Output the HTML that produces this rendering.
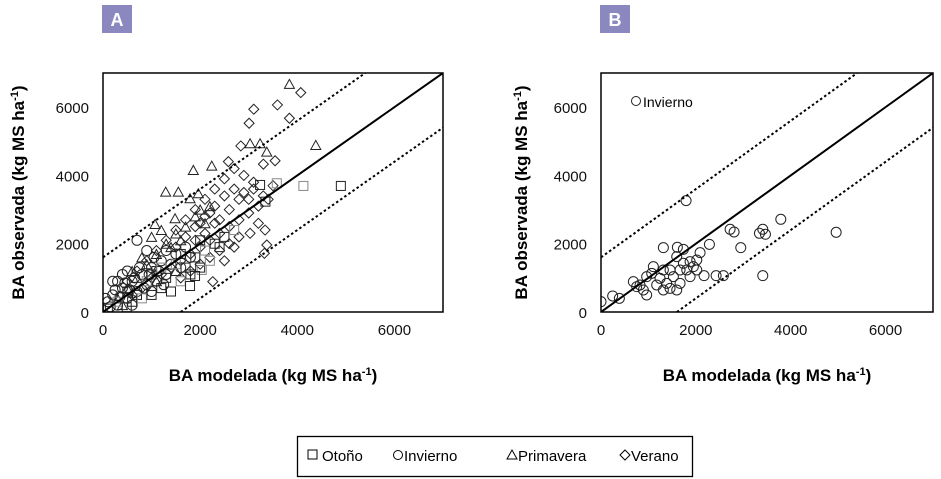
<!DOCTYPE html>
<html><head><meta charset="utf-8"><style>
body{margin:0;background:#fff;}
svg{display:block;font-family:"Liberation Sans",sans-serif;}
</style></head><body>
<svg id="c" width="941" height="479">
<g id="gA"></g>
<g id="gB"></g>
<g>
<rect x="297.5" y="436.5" width="395" height="40" fill="#fff" stroke="#000" stroke-width="1.3"/>
<g><rect x="308" y="450" width="9" height="9" fill="none" stroke="#000"/><text x="322" y="461" font-size="15">Otoño</text></g>
<g><circle cx="398" cy="455" r="4.5" fill="none" stroke="#000"/><text x="404" y="461" font-size="15">Invierno</text></g>
<g><path d="M507,459 L512,450 L517,459 Z" fill="none" stroke="#000"/><text x="518" y="461" font-size="15">Primavera</text></g>
<g><path d="M620,455 L625,450 L630,455 L625,460 Z" fill="none" stroke="#000"/><text x="631" y="461" font-size="15">Verano</text></g>
</g>
</svg>
<script>
const xTicks=[0,2000,4000,6000];
const yTicks=[0,2000,4000,6000];
const otonoA=[[100,100],[300,300],[500,600],[700,500],[900,900],[1100,1200],[1300,1000],[1500,1400],[1700,1300],[1900,1600],[2100,1800],[2300,2000],[2500,2200],[2700,2400],[1200,700],[1400,600],[1600,900],[1800,1100],[2000,1300],[800,400],[1000,500],[600,300],[2200,1500],[2400,1900],[1000,1100],[1200,1300],[1600,1700],[2000,2100],[4126,3692],[4897,3692],[3234,3721],[3578,3771],[3344,3232],[1792,762],[2033,1231],[1895,1055],[488,138]];
const inviernoA=[[100,300],[200,500],[300,200],[400,700],[500,400],[600,900],[700,600],[800,1100],[900,800],[1000,1300],[1100,900],[1200,1500],[1300,1100],[400,1100],[300,900],[700,2100],[900,1800],[150,150],[250,650],[350,450],[450,850],[550,650],[650,1000],[750,1300],[850,700],[950,1100],[1050,1600],[1150,1200],[1250,800],[1400,1400],[1500,1700],[1600,1300],[1700,1900],[1800,1600],[200,900],[50,400],[600,200],[1000,600],[1300,1800],[500,1200]];
const primaveraA=[[300,400],[500,700],[700,1000],[900,1400],[1100,1700],[1300,2000],[1500,2300],[1700,2500],[1900,2800],[2100,2600],[1000,2200],[1200,2400],[800,1600],[600,1200],[1400,1900],[1600,2100],[2000,3000],[2200,3100],[1100,900],[1500,1200],[400,200],[3838,6680],[4381,4893],[3028,4942],[3234,4942],[3372,4697],[1860,4160],[2239,4287],[1291,3525],[1551,3525],[1071,2578],[1792,3331],[1963,3478],[1483,2745]];
const veranoA=[[500,900],[700,1200],[900,1500],[1100,1800],[1300,2100],[1500,2400],[1700,2700],[1900,3000],[2100,3300],[2300,3600],[2500,3900],[2700,4200],[2900,4000],[3100,3800],[1200,1100],[1400,1300],[1600,1500],[1800,1700],[2000,1900],[2200,2100],[2400,2300],[2600,2500],[2800,2700],[3000,2900],[3200,3100],[3400,3300],[1500,1900],[1700,2200],[1900,2500],[2100,2800],[2300,3100],[2500,3400],[2700,3600],[2900,3500],[3100,3600],[2000,1400],[2200,1600],[2400,1800],[2600,2000],[2800,2200],[2500,1500],[2700,1900],[1800,1200],[1600,1000],[2300,2600],[2600,3000],[3300,3400],[3500,3700],[2800,3300],[1000,1000],[800,700],[600,500],[2000,2600],[2200,2900],[2400,2700],[3000,3300],[1900,2100],[2100,2300],[4072,6426],[3591,6065],[3838,5675],[3104,5939],[3008,5528],[2837,4864],[3372,1963],[3323,1719],[2260,889],[3028,2305],[3199,2598],[3337,2400],[2581,4404],[3543,4430],[3302,4330]];
const inviernoB=[[0,303],[246,469],[387,400],[1794,3262],[1315,1885],[1610,1895],[1737,1836],[2286,1982],[2722,2422],[2806,2344],[2947,1885],[3341,2305],[3411,2422],[3467,2276],[3791,2715],[4958,2334],[3411,1065],[2581,1065],[2427,1065],[2173,1065],[682,889],[752,742],[893,645],[963,498],[1104,1328],[1069,1133],[963,1035],[1245,986],[1385,840],[1456,693],[1526,1035],[1667,1231],[1737,1426],[1878,1475],[2019,1524],[2089,1739],[1948,1328],[1808,1231],[1878,1035],[1667,840],[1597,645],[1315,645],[1174,791],[823,791],[1456,1231],[1315,1231],[1597,1621],[2019,1231]];
const NS='http://www.w3.org/2000/svg';
function mk(p,t,a){const e=document.createElementNS(NS,t);for(const k in a)e.setAttribute(k,a[k]);p.appendChild(e);return e;}
function panel(g,L,R,T,B,labX,letter,series){
  const sx=v=>L+(v/7000)*(R-L), sy=v=>B-(v/7000)*(B-T);
  const clip='clip'+letter;
  const cp=mk(g,'clipPath',{id:clip});mk(cp,'rect',{x:L,y:T,width:R-L,height:B-T});
  const badge=mk(g,'rect',{x:L-1,y:5,width:30,height:28,fill:'#8b88bf'});
  
  
  const bt=mk(g,'text',{x:L+14,y:26,'font-size':18,'font-weight':'bold',fill:'#fff','text-anchor':'middle'});bt.textContent=letter;
  
  
  const mg=mk(g,'g',{'clip-path':'url(#'+clip+')'});
  series.forEach(s=>{
    s.d.forEach((p,i)=>{
      const x=sx(p[0]),y=sy(p[1]);let e;
      const col=(s.k==='sq'&&i%3===1)?'#888':'#222';
      if(s.k==='sq')e=mk(mg,'rect',{x:x-4.5,y:y-4.5,width:9,height:9,fill:'none',stroke:col,'stroke-width':1});
      else if(s.k==='ci')e=mk(mg,'circle',{cx:x,cy:y,r:5,fill:'none',stroke:'#222','stroke-width':1});
      else if(s.k==='tr')e=mk(mg,'path',{d:`M${x-5},${y+4.5}L${x},${y-4.5}L${x+5},${y+4.5}Z`,fill:'none',stroke:'#222','stroke-width':1});
      else e=mk(mg,'path',{d:`M${x-5},${y}L${x},${y-5}L${x+5},${y}L${x},${y+5}Z`,fill:'none',stroke:'#222','stroke-width':1});
      
      
    });
  });
  const l1=mk(mg,'line',{x1:sx(0),y1:sy(0),x2:sx(7000),y2:sy(7000),stroke:'#000','stroke-width':2});
  
  
  const l2=mk(mg,'line',{x1:sx(0),y1:sy(1600),x2:sx(5400),y2:sy(7000),stroke:'#000','stroke-width':2,'stroke-dasharray':'2.5,2.5'});
  
  
  const l3=mk(mg,'line',{x1:sx(1600),y1:sy(0),x2:sx(7000),y2:sy(5400),stroke:'#000','stroke-width':2,'stroke-dasharray':'2.5,2.5'});
  
  
  const fr=mk(g,'rect',{x:L,y:T,width:R-L,height:B-T,fill:'none',stroke:'#000','stroke-width':1.5});
  
  
  xTicks.forEach(v=>{const t=mk(g,'text',{x:sx(v),y:B+23,'font-size':15,'text-anchor':'middle',fill:'#111'});t.textContent=v;
    
    });
  yTicks.forEach(v=>{const t=mk(g,'text',{x:L-14,y:sy(v)+6,'font-size':15,'text-anchor':'end',fill:'#111'});t.textContent=v;
    
    });
  const xt=mk(g,'text',{x:(L+R)/2,y:381,'font-size':17,'font-weight':'bold','text-anchor':'middle'});
  xt.innerHTML='BA modelada (kg MS ha<tspan dy="-6" font-size="11">-1</tspan><tspan dy="6">)</tspan>';
  
  
  const yt=mk(g,'text',{x:0,y:0,'font-size':17,'font-weight':'bold','text-anchor':'middle',transform:`translate(${labX},${(T+B)/2}) rotate(-90)`});
  yt.innerHTML='BA observada (kg MS ha<tspan dy="-6" font-size="11">-1</tspan><tspan dy="6">)</tspan>';
  
  
  return {sx,sy};
}
panel(document.getElementById('gA'),103,443,73,312,24,'A',[
 {k:'di',n:'verano',d:veranoA},{k:'tr',n:'primavera',d:primaveraA},{k:'ci',n:'invierno',d:inviernoA},{k:'sq',n:'otono',d:otonoA}]);
const pB=panel(document.getElementById('gB'),601,933,73,312,527,'B',[{k:'ci',n:'invierno',d:inviernoB}]);
const gB=document.getElementById('gB');
const lc=mk(gB,'circle',{cx:636,cy:101,r:4.5,fill:'none',stroke:'#222'});


const lt=mk(gB,'text',{x:643,y:107,'font-size':14});lt.textContent='Invierno';


</script>
</body></html>
